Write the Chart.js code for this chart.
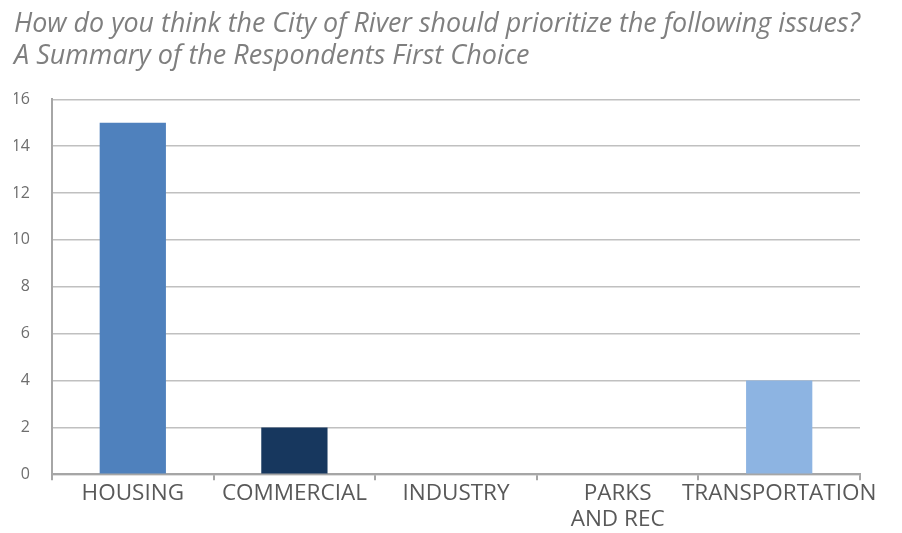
<!DOCTYPE html>
<html>
<head>
<meta charset="utf-8">
<script src="https://cdn.jsdelivr.net/npm/chart.js@4"></script>
<style>
  html, body { margin: 0; padding: 0; background: #fff; }
  #wrap { width: 902px; height: 533px; }
</style>
</head>
<body>
<div id="wrap"><canvas id="issuesChart"></canvas></div>
<script>
// 回答者の第一選択の集計
const titleLines = [
  'How do you think the City of River should prioritize the following issues?',
  'A Summary of the Respondents First Choice'
];
const categories = ['HOUSING', 'COMMERCIAL', 'INDUSTRY', ['PARKS', 'AND REC'], 'TRANSPORTATION'];
const firstChoice = [15, 2, 0, 0, 4];
const barColors = ['#4F81BD', '#17375E', '#4F81BD', '#4F81BD', '#8DB4E2'];
const yTicks = [0, 2, 4, 6, 8, 10, 12, 14, 16];

const textGrey = '#595959';
const fontName = '"Open Sans", sans-serif';

const chartConfig = {
  type: 'bar',
  data: {
    labels: categories,
    datasets: [{
      label: 'First Choice',
      data: firstChoice,
      backgroundColor: barColors,
      borderWidth: 0,
      barPercentage: 0.82,
      categoryPercentage: 0.5
    }]
  },
  options: {
    responsive: true,
    maintainAspectRatio: false,
    animation: false,
    layout: { padding: { left: 14, right: 42, top: 2, bottom: 0 } },
    plugins: {
      legend: { display: false },
      tooltip: { enabled: false },
      title: {
        display: true,
        text: titleLines,
        align: 'start',
        color: '#7F7F7F',
        font: { family: fontName, size: 27, style: 'italic', weight: 'normal', lineHeight: 1.19 },
        padding: { top: 6, bottom: 27 }
      }
    },
    scales: {
      x: {
        offset: true,
        grid: {
          offset: true,
          drawOnChartArea: false,
          drawTicks: true,
          tickLength: 6,
          color: '#A6A6A6',
          lineWidth: 2
        },
        border: { color: '#A6A6A6', width: 2 },
        ticks: {
          color: textGrey,
          font: { family: fontName, size: 22.5, lineHeight: 1.17 },
          padding: 0,
          maxRotation: 0,
          autoSkip: false
        }
      },
      y: {
        min: 0,
        max: 16,
        afterFit: function(scale) {
          scale.width = 38; // 軸の位置を固定
        },
        afterBuildTicks: function(scale) {
          scale.ticks = yTicks.map(v => ({ value: v }));
        },
        grid: {
          drawTicks: false,
          color: '#C0C0C0',
          lineWidth: 1.5
        },
        border: { color: '#A6A6A6', width: 2 },
        ticks: {
          color: '#6E6E6E',
          font: { family: fontName, size: 16 },
          padding: 22
        }
      }
    }
  }
};

const issuesChart = new Chart(document.getElementById('issuesChart'), chartConfig);
</script>
</body>
</html>
